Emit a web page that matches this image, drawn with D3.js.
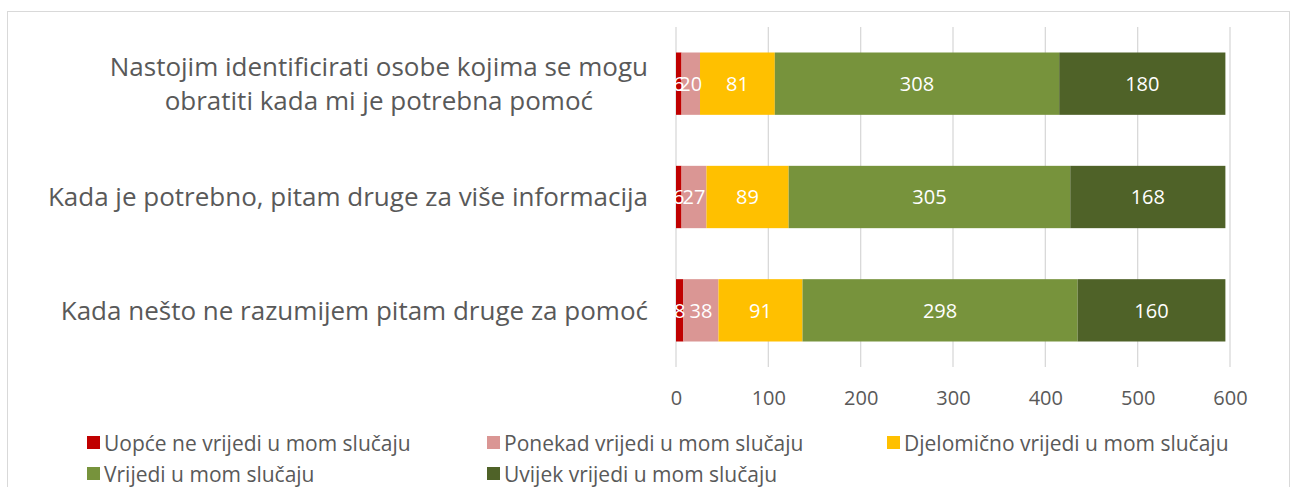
<!DOCTYPE html>
<html><head><meta charset="utf-8">
<script src="https://cdn.jsdelivr.net/npm/d3@7"></script>
<style>body{margin:0;background:#fff}svg{display:block}</style>
</head><body>
<svg id="c" width="1293" height="487"></svg>
<script>
const categories = [
  "Nastojim identificirati osobe kojima se mogu obratiti kada mi je potrebna pomoć",
  "Kada je potrebno, pitam druge za više informacija",
  "Kada nešto ne razumijem pitam druge za pomoć"
];
const seriesNames = [
  "Uopće ne vrijedi u mom slučaju",
  "Ponekad vrijedi u mom slučaju",
  "Djelomično vrijedi u mom slučaju",
  "Vrijedi u mom slučaju",
  "Uvijek vrijedi u mom slučaju"
];
const uopce = [6, 6, 8];
const ponekad = [20, 27, 38];
const djelomicno = [81, 89, 91];
const vrijedi = [308, 305, 298];
const uvijek = [180, 168, 160];
const tickValues = [0, 100, 200, 300, 400, 500, 600];
const colors = ["#C00000", "#DA9694", "#FFC000", "#77933C", "#4F6228"];
const wrapLines = [["Nastojim identificirati osobe kojima se mogu", "obratiti kada mi je potrebna pomoć"], null, null];

const seriesValues = [uopce, ponekad, djelomicno, vrijedi, uvijek];
const rows = categories.map((c, i) => {
  const r = {cat: c};
  seriesNames.forEach((s, j) => r[s] = seriesValues[j][i]);
  return r;
});
const stack = d3.stack().keys(seriesNames)(rows);

const svg = d3.select("#c");
const font = "'Open Sans', sans-serif";
svg.append("rect").attr("x", 7.5).attr("y", 11.5).attr("width", 1282).attr("height", 490)
  .attr("fill", "none").attr("stroke", "#D9D9D9");

const x = d3.scaleLinear().domain([0, 600]).range([676, 1230]);
const y = d3.scaleBand().domain(categories).range([27, 367]).paddingInner(0.45).paddingOuter(0.225);

// gridlines
svg.append("g").selectAll("line").data(tickValues).join("line")
  .attr("x1", d => x(d)).attr("x2", d => x(d)).attr("y1", 27).attr("y2", 367)
  .attr("stroke", "#D9D9D9").attr("stroke-width", 1.3);

// bars
const g = svg.append("g");
stack.forEach((s, j) => {
  g.append("g").attr("fill", colors[j]).selectAll("rect").data(s).join("rect")
    .attr("x", d => x(d[0])).attr("width", d => x(d[1]) - x(d[0]))
    .attr("y", d => y(d.data.cat)).attr("height", y.bandwidth());
});
stack.forEach((s, j) => {
  g.append("g").selectAll("text").data(s).join("text")
    .attr("x", d => (x(d[0]) + x(d[1])) / 2)
    .attr("y", d => y(d.data.cat) + y.bandwidth() / 2)
    .attr("dy", "0.36em").attr("text-anchor", "middle")
    .attr("fill", "#fff").attr("font-family", font).attr("font-size", 20)
    .text(d => d[1] - d[0]);
});

// x axis labels
const xAxis = d3.axisBottom(x).tickValues(tickValues).tickSize(0).tickPadding(0);
const ax = svg.append("g").attr("transform", "translate(0,398)").call(xAxis);
ax.select(".domain").remove();
ax.selectAll("text").attr("font-family", font).attr("font-size", 20).attr("fill", "#595959").attr("dy", "0.36em");

// category labels
const cg = svg.append("g");
categories.forEach((c, i) => {
  const cy = y(c) + y.bandwidth() / 2;
  const lines = wrapLines[i] || [c];
  const t = cg.append("text").attr("font-family", font).attr("font-size", 26).attr("fill", "#595959");
  const lh = 34;
  lines.forEach((l, k) => {
    t.append("tspan").attr("y", cy + (k - (lines.length - 1) / 2) * lh).attr("dy", "0.36em").text(l);
  });
  let maxW = 0;
  t.selectAll("tspan").each(function(){ maxW = Math.max(maxW, this.getComputedTextLength()); });
  t.attr("text-anchor", "middle").selectAll("tspan").attr("x", 648 - maxW / 2);
});

// legend
const legendPos = [[87, 443], [487, 443], [887, 443], [87, 474], [487, 474]];
const lg = svg.append("g");
seriesNames.forEach((s, j) => {
  const [lx, ly] = legendPos[j];
  lg.append("rect").attr("x", lx).attr("y", ly - 7).attr("width", 13).attr("height", 13).attr("fill", colors[j]);
  lg.append("text").attr("x", lx + 17).attr("y", ly).attr("dy", "0.36em")
    .attr("font-family", font).attr("font-size", 21).attr("fill", "#595959").text(s);
});
</script>
</body></html>
